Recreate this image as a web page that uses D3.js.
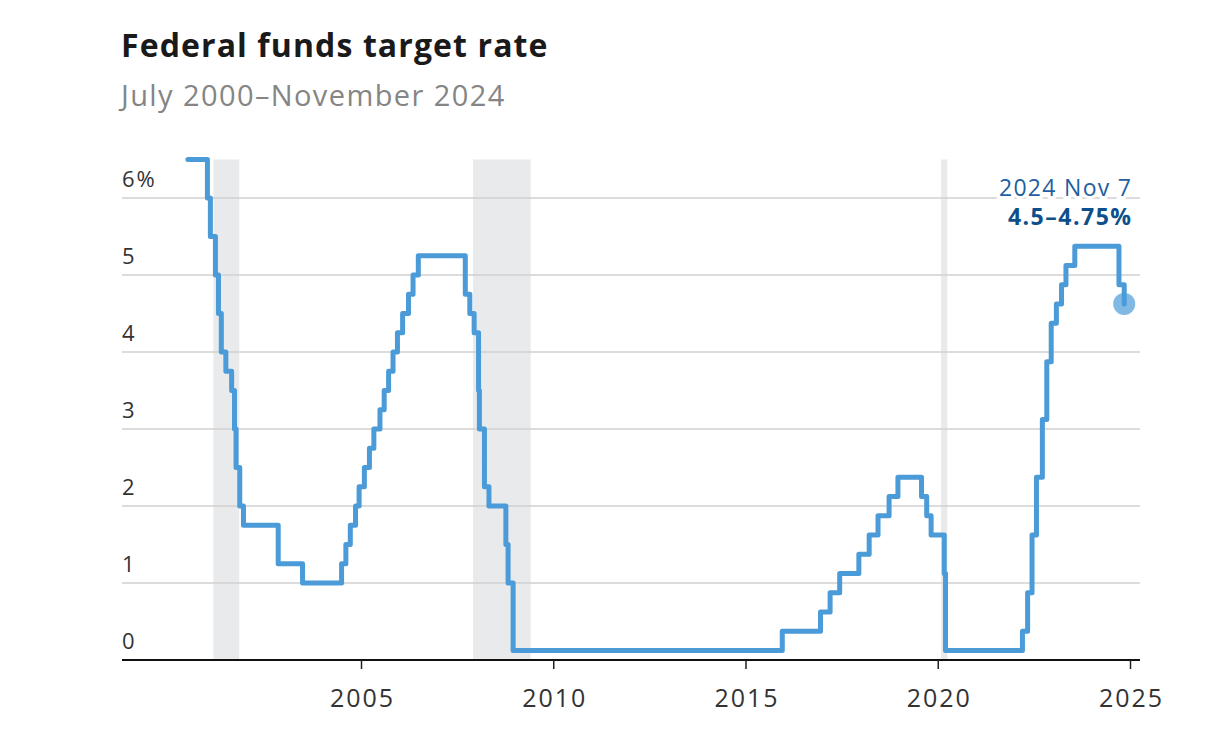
<!DOCTYPE html>
<html>
<head>
<meta charset="utf-8">
<script src="https://cdn.jsdelivr.net/npm/d3@7"></script>
<style>
  html, body { margin: 0; padding: 0; background: #fff; }
  svg { display: block; font-family: "Open Sans", Lato, sans-serif; }
</style>
</head>
<body>
<svg id="chart" width="1210" height="742"></svg>
<script>
// ---- Data ----
const changeDates = [
  "2000-07-01","2001-01-03","2001-01-31","2001-03-20","2001-04-18","2001-05-15","2001-06-27",
  "2001-08-21","2001-09-17","2001-10-02","2001-11-06","2001-12-11","2002-11-06","2003-06-25",
  "2004-06-30","2004-08-10","2004-09-21","2004-11-10","2004-12-14","2005-02-02","2005-03-22",
  "2005-05-03","2005-06-30","2005-08-09","2005-09-20","2005-11-01","2005-12-13","2006-01-31",
  "2006-03-28","2006-05-10","2006-06-29","2007-09-18","2007-10-31","2007-12-11","2008-01-22",
  "2008-01-30","2008-03-18","2008-04-30","2008-10-08","2008-10-29","2008-12-16","2015-12-16",
  "2016-12-14","2017-03-15","2017-06-14","2017-12-13","2018-03-21","2018-06-13","2018-09-26",
  "2018-12-19","2019-07-31","2019-09-18","2019-10-30","2020-03-03","2020-03-15","2022-03-16",
  "2022-05-04","2022-06-15","2022-07-27","2022-09-21","2022-11-02","2022-12-14","2023-02-01",
  "2023-03-22","2023-05-03","2023-07-26","2024-09-18","2024-11-07"
];
const rates = [
  6.5, 6.0, 5.5, 5.0, 4.5, 4.0, 3.75,
  3.5, 3.0, 2.5, 2.0, 1.75, 1.25, 1.0,
  1.25, 1.5, 1.75, 2.0, 2.25, 2.5, 2.75,
  3.0, 3.25, 3.5, 3.75, 4.0, 4.25, 4.5,
  4.75, 5.0, 5.25, 4.75, 4.5, 4.25, 3.5,
  3.0, 2.25, 2.0, 1.5, 1.0, 0.125, 0.375,
  0.625, 0.875, 1.125, 1.375, 1.625, 1.875, 2.125,
  2.375, 2.125, 1.875, 1.625, 1.125, 0.125, 0.375,
  0.875, 1.625, 2.375, 3.125, 3.875, 4.375, 4.625,
  4.875, 5.125, 5.375, 4.875, 4.625
];
const recessionStarts = ["2001-03-01","2007-12-01","2020-02-01"];
const recessionEnds   = ["2001-11-01","2009-06-01","2020-04-01"];
const yTicks = [0, 1, 2, 3, 4, 5, 6];
const xTicks = [2005, 2010, 2015, 2020, 2025];
const title = "Federal funds target rate";
const subtitle = "July 2000\u2013November 2024";
const annoDate = "2024 Nov 7";
const annoValue = "4.5\u20134.75%";

// ---- Layout ----
const svg = d3.select("#chart");
const parse = d3.timeParse("%Y-%m-%d");
const toYear = d => {
  const y = d.getFullYear();
  const s = new Date(y, 0, 1), e = new Date(y + 1, 0, 1);
  return y + (d - s) / (e - s);
};
const data = changeDates.map((d, i) => ({ t: toYear(parse(d)), v: rates[i] }));

const left = 122, right = 1140, yZero = 660, ySix = 198;
const x = d3.scaleLinear().domain([1998.784, 2025.26]).range([left, right]);
const y = d3.scaleLinear().domain([0, 6]).range([yZero, ySix]);

// Title
svg.append("text").attr("x", 121).attr("y", 57)
  .attr("font-size", 32).attr("font-weight", 700).attr("fill", "#1a1a1a")
  .attr("letter-spacing", 1.1)
  .text(title);
svg.append("text").attr("x", 121).attr("y", 106)
  .attr("font-size", 29).attr("fill", "#858585")
  .attr("letter-spacing", 1.4)
  .text(subtitle);

// Recession shading
svg.append("g").selectAll("rect")
  .data(recessionStarts.map((s, i) => ({ s: toYear(parse(s)), e: toYear(parse(recessionEnds[i])) })))
  .join("rect")
  .attr("x", d => x(d.s))
  .attr("width", d => Math.max(5, x(d.e) - x(d.s)))
  .attr("y", y(6.5))
  .attr("height", y(0) - y(6.5))
  .attr("fill", "#e9eaec");

// Gridlines
const grid = svg.append("g");
grid.selectAll("line").data(yTicks.filter(d => d > 0)).join("line")
  .attr("x1", left).attr("x2", right)
  .attr("y1", d => y(d)).attr("y2", d => y(d))
  .attr("stroke", "#d0d0d0").attr("stroke-width", 1.5);

// Y labels
svg.append("g").selectAll("text").data(yTicks).join("text")
  .attr("x", left).attr("y", d => y(d) - 11)
  .attr("font-size", 22).attr("fill", "#333").attr("letter-spacing", 2)
  .text(d => d === 6 ? "6%" : d);

// X axis
const xAxis = d3.axisBottom(x).tickValues(xTicks).tickSize(9).tickFormat(d3.format("d"));
const gx = svg.append("g").attr("transform", `translate(0,${yZero})`).call(xAxis);
gx.select(".domain").attr("stroke", "#111").attr("stroke-width", 2)
  .attr("d", `M${left},0H${right}`);
gx.selectAll(".tick line").attr("stroke", "#222").attr("stroke-width", 1.5);
gx.selectAll(".tick text").attr("font-size", 25).attr("fill", "#333")
  .attr("font-family", "'Open Sans', Lato, sans-serif").attr("letter-spacing", 2)
  .attr("dx", 1).attr("dy", 0).attr("y", 47);

// Line
const line = d3.line().x(d => x(d.t)).y(d => y(d.v)).curve(d3.curveStepAfter);
svg.append("path").datum(data)
  .attr("d", line)
  .attr("fill", "none").attr("stroke", "#4a9bd8").attr("stroke-width", 5)
  .attr("stroke-linejoin", "round").attr("stroke-linecap", "round");

// End point
const last = data[data.length - 1];
svg.append("circle").attr("cx", x(last.t)).attr("cy", y(last.v)).attr("r", 11)
  .attr("fill", "#4a9bd8").attr("fill-opacity", 0.7);

// Annotation
const ax = 1131;
svg.append("text").attr("x", ax + 1.3).attr("y", 196).attr("text-anchor", "end")
  .attr("font-size", 23).attr("fill", "#1f5f9f").attr("letter-spacing", 1.3)
  .attr("stroke", "#fff").attr("stroke-width", 6).attr("paint-order", "stroke")
  .text(annoDate);
svg.append("text").attr("x", ax + 1.5).attr("y", 225).attr("text-anchor", "end")
  .attr("font-size", 23).attr("font-weight", 700).attr("fill", "#0d4f8b").attr("letter-spacing", 1.5)
  .text(annoValue);
</script>
</body>
</html>
